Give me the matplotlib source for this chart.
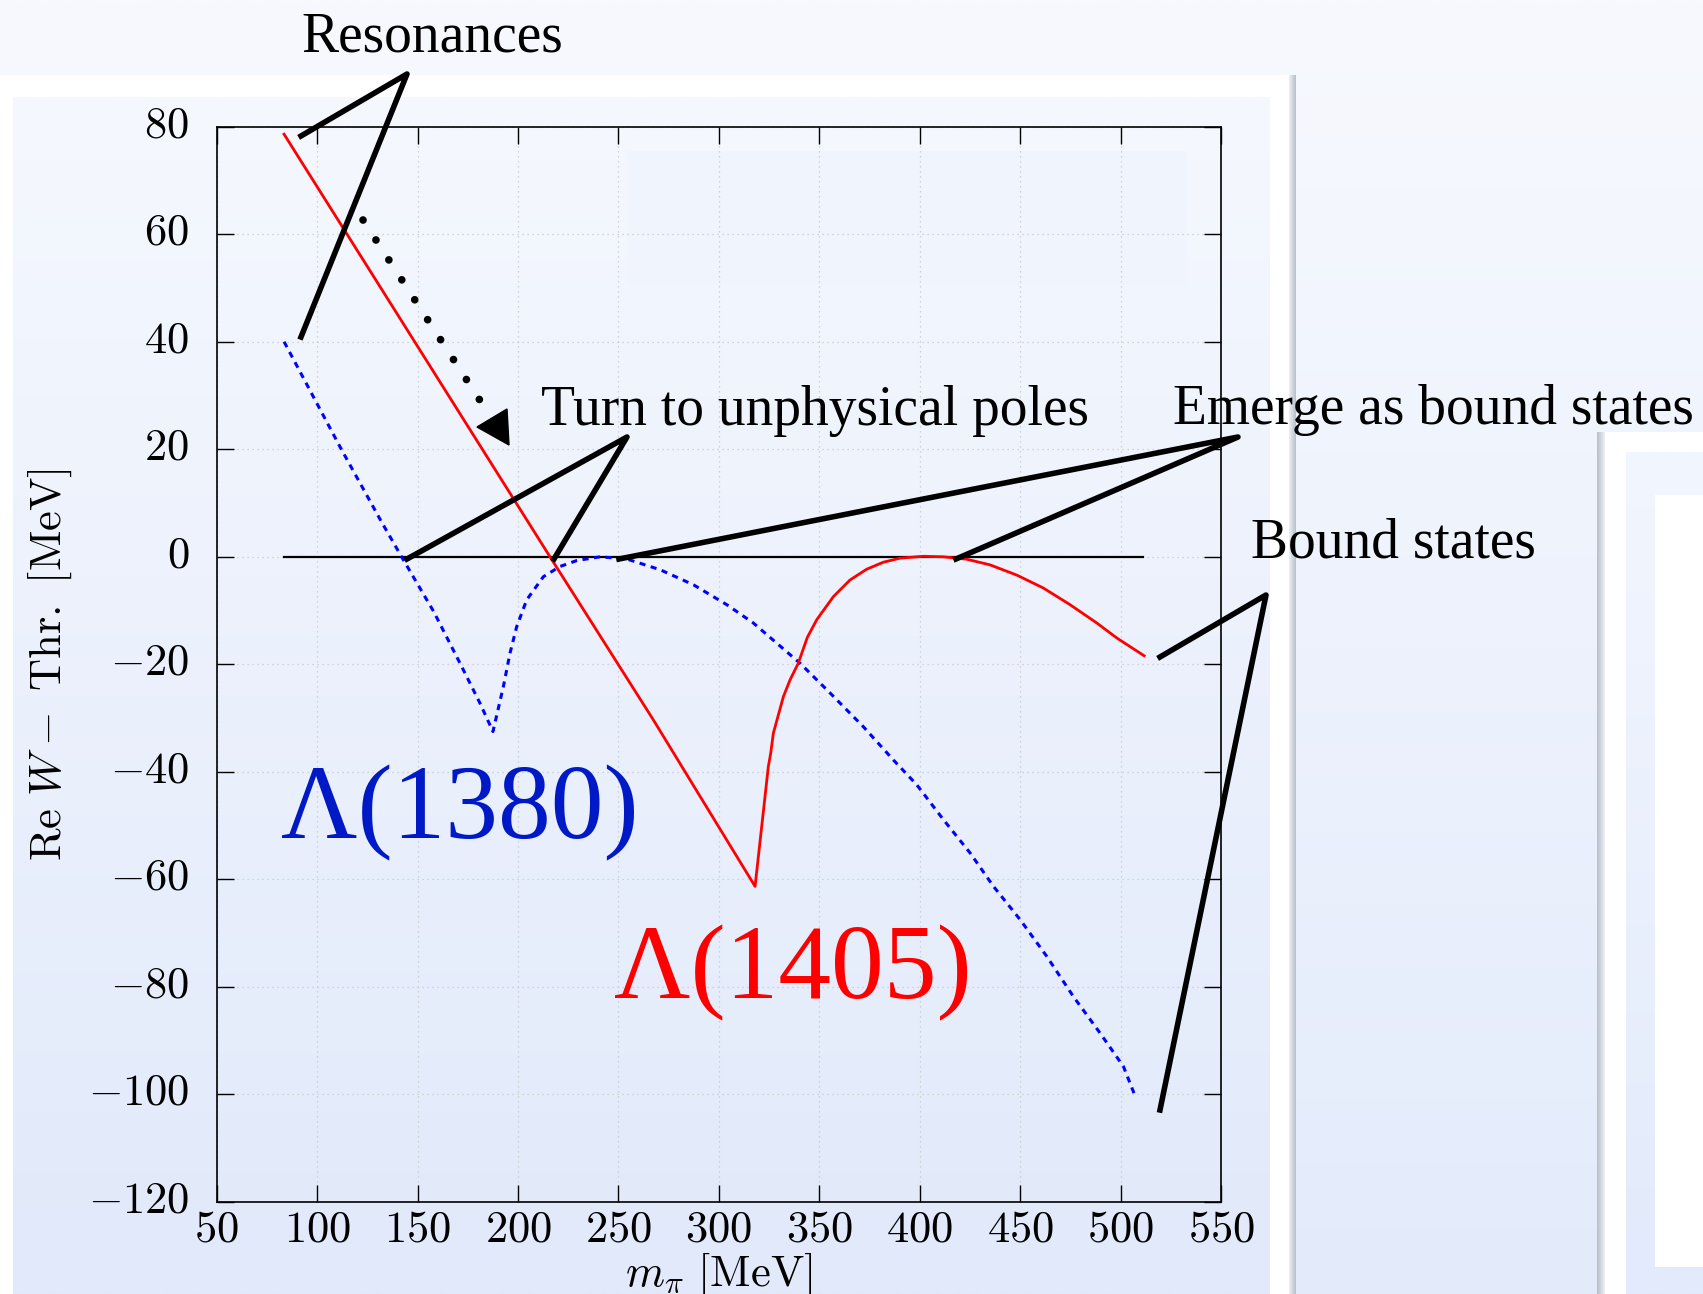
import numpy as np
import matplotlib.pyplot as plt
import matplotlib.transforms as mtransforms
from matplotlib.patches import Rectangle, Polygon
from matplotlib.ticker import MultipleLocator, FuncFormatter

plt.rcParams['mathtext.fontset'] = 'cm'
plt.rcParams['font.family'] = ['Liberation Serif', 'DejaVu Serif']

# Pole trajectories: Re W - threshold [MeV] against m_pi [MeV]
mpi_1405 = [83.5, 215.9, 267.3, 318, 324.6, 325.8, 327.1, 332.1, 335.4, 339.5,
            344, 348.7, 357, 365.3, 373.6, 381.9, 390.2, 401.8, 411.7, 423.4,
            435, 448.3, 461.5, 474.8, 488.1, 498.1, 511.7]
reW_1405 = [78.6, 0.0, -30.3, -61.3, -39.0, -36.5, -32.8, -26.0, -22.9, -19.8,
            -15.0, -11.7, -7.4, -4.3, -2.3, -1.0, -0.25, 0.1, 0.0, -0.45,
            -1.5, -3.4, -5.8, -8.9, -12.3, -15.1, -18.4]

mpi_1380 = [83.5, 112, 132, 142, 158, 171.1, 181, 187.5, 192.7, 196, 199.3,
            204.3, 212.6, 220.9, 229.2, 240.8, 254.1, 270.7, 287.3, 303.9, 317.1,
            340.4, 355, 371.9, 386.9, 398.5, 411.8, 425.1, 436.7, 450, 463.2,
            476.5, 489.8, 501.4, 506.7]
reW_1380 = [40, 20, 6.5, 0, -10.2, -19.8, -27.2, -32.5, -24.1, -17.9, -13.0,
            -8.0, -3.7, -1.8, -0.7, 0.0, -0.4, -2.4, -5.2, -8.9, -12.3,
            -19.8, -25.2, -31.6, -37.8, -42.4, -48.9, -55.1, -61.3, -67.5, -74.3,
            -81.8, -88.6, -94.8, -99.8]

threshold_x = [83.5, 511]
threshold_y = [0, 0]

W, H = 1703, 1294
fig = plt.figure(figsize=(W / 100, H / 100), dpi=100)

z = [0]


def nz():
    z[0] += 1
    return z[0]


def vgrad(ax, x0, x1, y0, y1, top, bottom):
    t = np.linspace(0, 1, 256)[:, None]
    c = (1 - t) * np.array(top) + t * np.array(bottom)
    ax.imshow(c[:, None, :] / 255, extent=(x0, x1, y1, y0), aspect='auto',
              interpolation='bilinear', zorder=nz())


def shadow(ax, x0, x1, y0, y1, dark_side):
    t = np.linspace(0, 1, 32)
    if dark_side == 'right':
        t = t[::-1]
    c = (1 - t)[None, :, None] * np.array([185, 190, 200]) + t[None, :, None] * np.array([236, 240, 248])
    ax.imshow(c / 255, extent=(x0, x1, y1, y0), aspect='auto',
              interpolation='bilinear', zorder=nz())


# slide background with the framed panels
bg = fig.add_axes([0, 0, 1, 1], zorder=0)
vgrad(bg, 0, W, 0, H, (247, 249, 254), (227, 235, 251))
bg.add_patch(Rectangle((0, 75), 1289, H - 75, color='white', lw=0, zorder=nz()))
vgrad(bg, 13, 1270, 97, H, (245, 248, 254), (225, 233, 250))
bg.add_patch(Rectangle((627, 151), 560, 134, color='#eff4fd', lw=0, zorder=nz()))
shadow(bg, 1289, 1296, 75, H, 'right')
bg.add_patch(Rectangle((1605, 432), W - 1605, H - 432, color='white', lw=0, zorder=nz()))
shadow(bg, 1597, 1605, 432, H, 'left')
vgrad(bg, 1626, W, 452, H, (242, 246, 254), (226, 234, 251))
bg.add_patch(Rectangle((1655, 495), W - 1655, 772, color='white', lw=0, zorder=nz()))
bg.set_xlim(0, W)
bg.set_ylim(H, 0)
bg.axis('off')

ax = fig.add_axes([0.1273, 0.0711, 0.5897, 0.8310], zorder=2)
ax.set_facecolor('none')
ax.plot(threshold_x, threshold_y, color='black', lw=1.6)
ax.plot(mpi_1380, reW_1380, color='#0000ff', lw=2.2, ls=(0, (2.0, 1.8)))
ax.plot(mpi_1405, reW_1405, color='#ff0000', lw=2.0)

ax.set_xlim(50, 550)
ax.set_ylim(-120, 80)
ax.xaxis.set_major_locator(MultipleLocator(50))
ax.yaxis.set_major_locator(MultipleLocator(20))
fmt = FuncFormatter(lambda v, _: f'${v:.0f}$')
ax.xaxis.set_major_formatter(fmt)
ax.yaxis.set_major_formatter(fmt)
ax.grid(True, color='#c8c8c8', lw=0.9, ls=(0, (1, 3)))
ax.tick_params(direction='in', length=12, width=1, top=True, right=True,
               labelsize=32)
ax.tick_params(axis='y', pad=20)
ax.tick_params(axis='x', pad=6)
up = mtransforms.ScaledTranslation(0, 5 / 100, fig.dpi_scale_trans)
for lab in ax.get_yticklabels():
    lab.set_transform(lab.get_transform() + up)
for s in ax.spines.values():
    s.set_linewidth(1.2)
ax.set_xlabel(r'$m_\pi\ [\mathrm{MeV}]$', fontsize=32, labelpad=0)
ax.set_ylabel(r'$\mathrm{Re}\ W-\ \mathrm{Thr.}\ [\mathrm{MeV}]$', fontsize=32,
              labelpad=10)

# annotations in pixel coordinates
ov = fig.add_axes([0, 0, 1, 1], zorder=3)
ov.patch.set_alpha(0)
ov.set_xlim(0, W)
ov.set_ylim(H, 0)
ov.axis('off')

lw_ann = 4
ov.plot([301, 407, 301], [136, 74, 337], color='black', lw=lw_ann)
ov.plot([407, 627, 554], [559, 437, 559], color='black', lw=lw_ann)
ov.plot([619, 1238, 956], [559, 437, 559], color='black', lw=lw_ann)
ov.plot([1160, 1266, 1160], [657, 595, 1110], color='black', lw=lw_ann)

ov.plot([363, 481], [220, 402], color='black', lw=5.5,
        ls=(0, (0.01, 3.1)), dash_capstyle='round')
ov.add_patch(Polygon([(509, 445), (477, 427), (507, 409)], closed=True,
                     color='black'))

ov.text(432, 52, 'Resonances', fontsize=40, ha='center', va='baseline')
ov.text(541, 425, 'Turn to unphysical poles', fontsize=40, ha='left', va='baseline')
ov.text(1173, 424, 'Emerge as bound states', fontsize=40, ha='left', va='baseline')
ov.text(1251, 557, 'Bound states', fontsize=40, ha='left', va='baseline')
ov.text(281, 838, 'Λ(1380)', fontsize=76, color='#0019c6', ha='left', va='baseline')
ov.text(614, 998, 'Λ(1405)', fontsize=76, color='#ff0000', ha='left', va='baseline')

fig.savefig('out.png', dpi=100)
